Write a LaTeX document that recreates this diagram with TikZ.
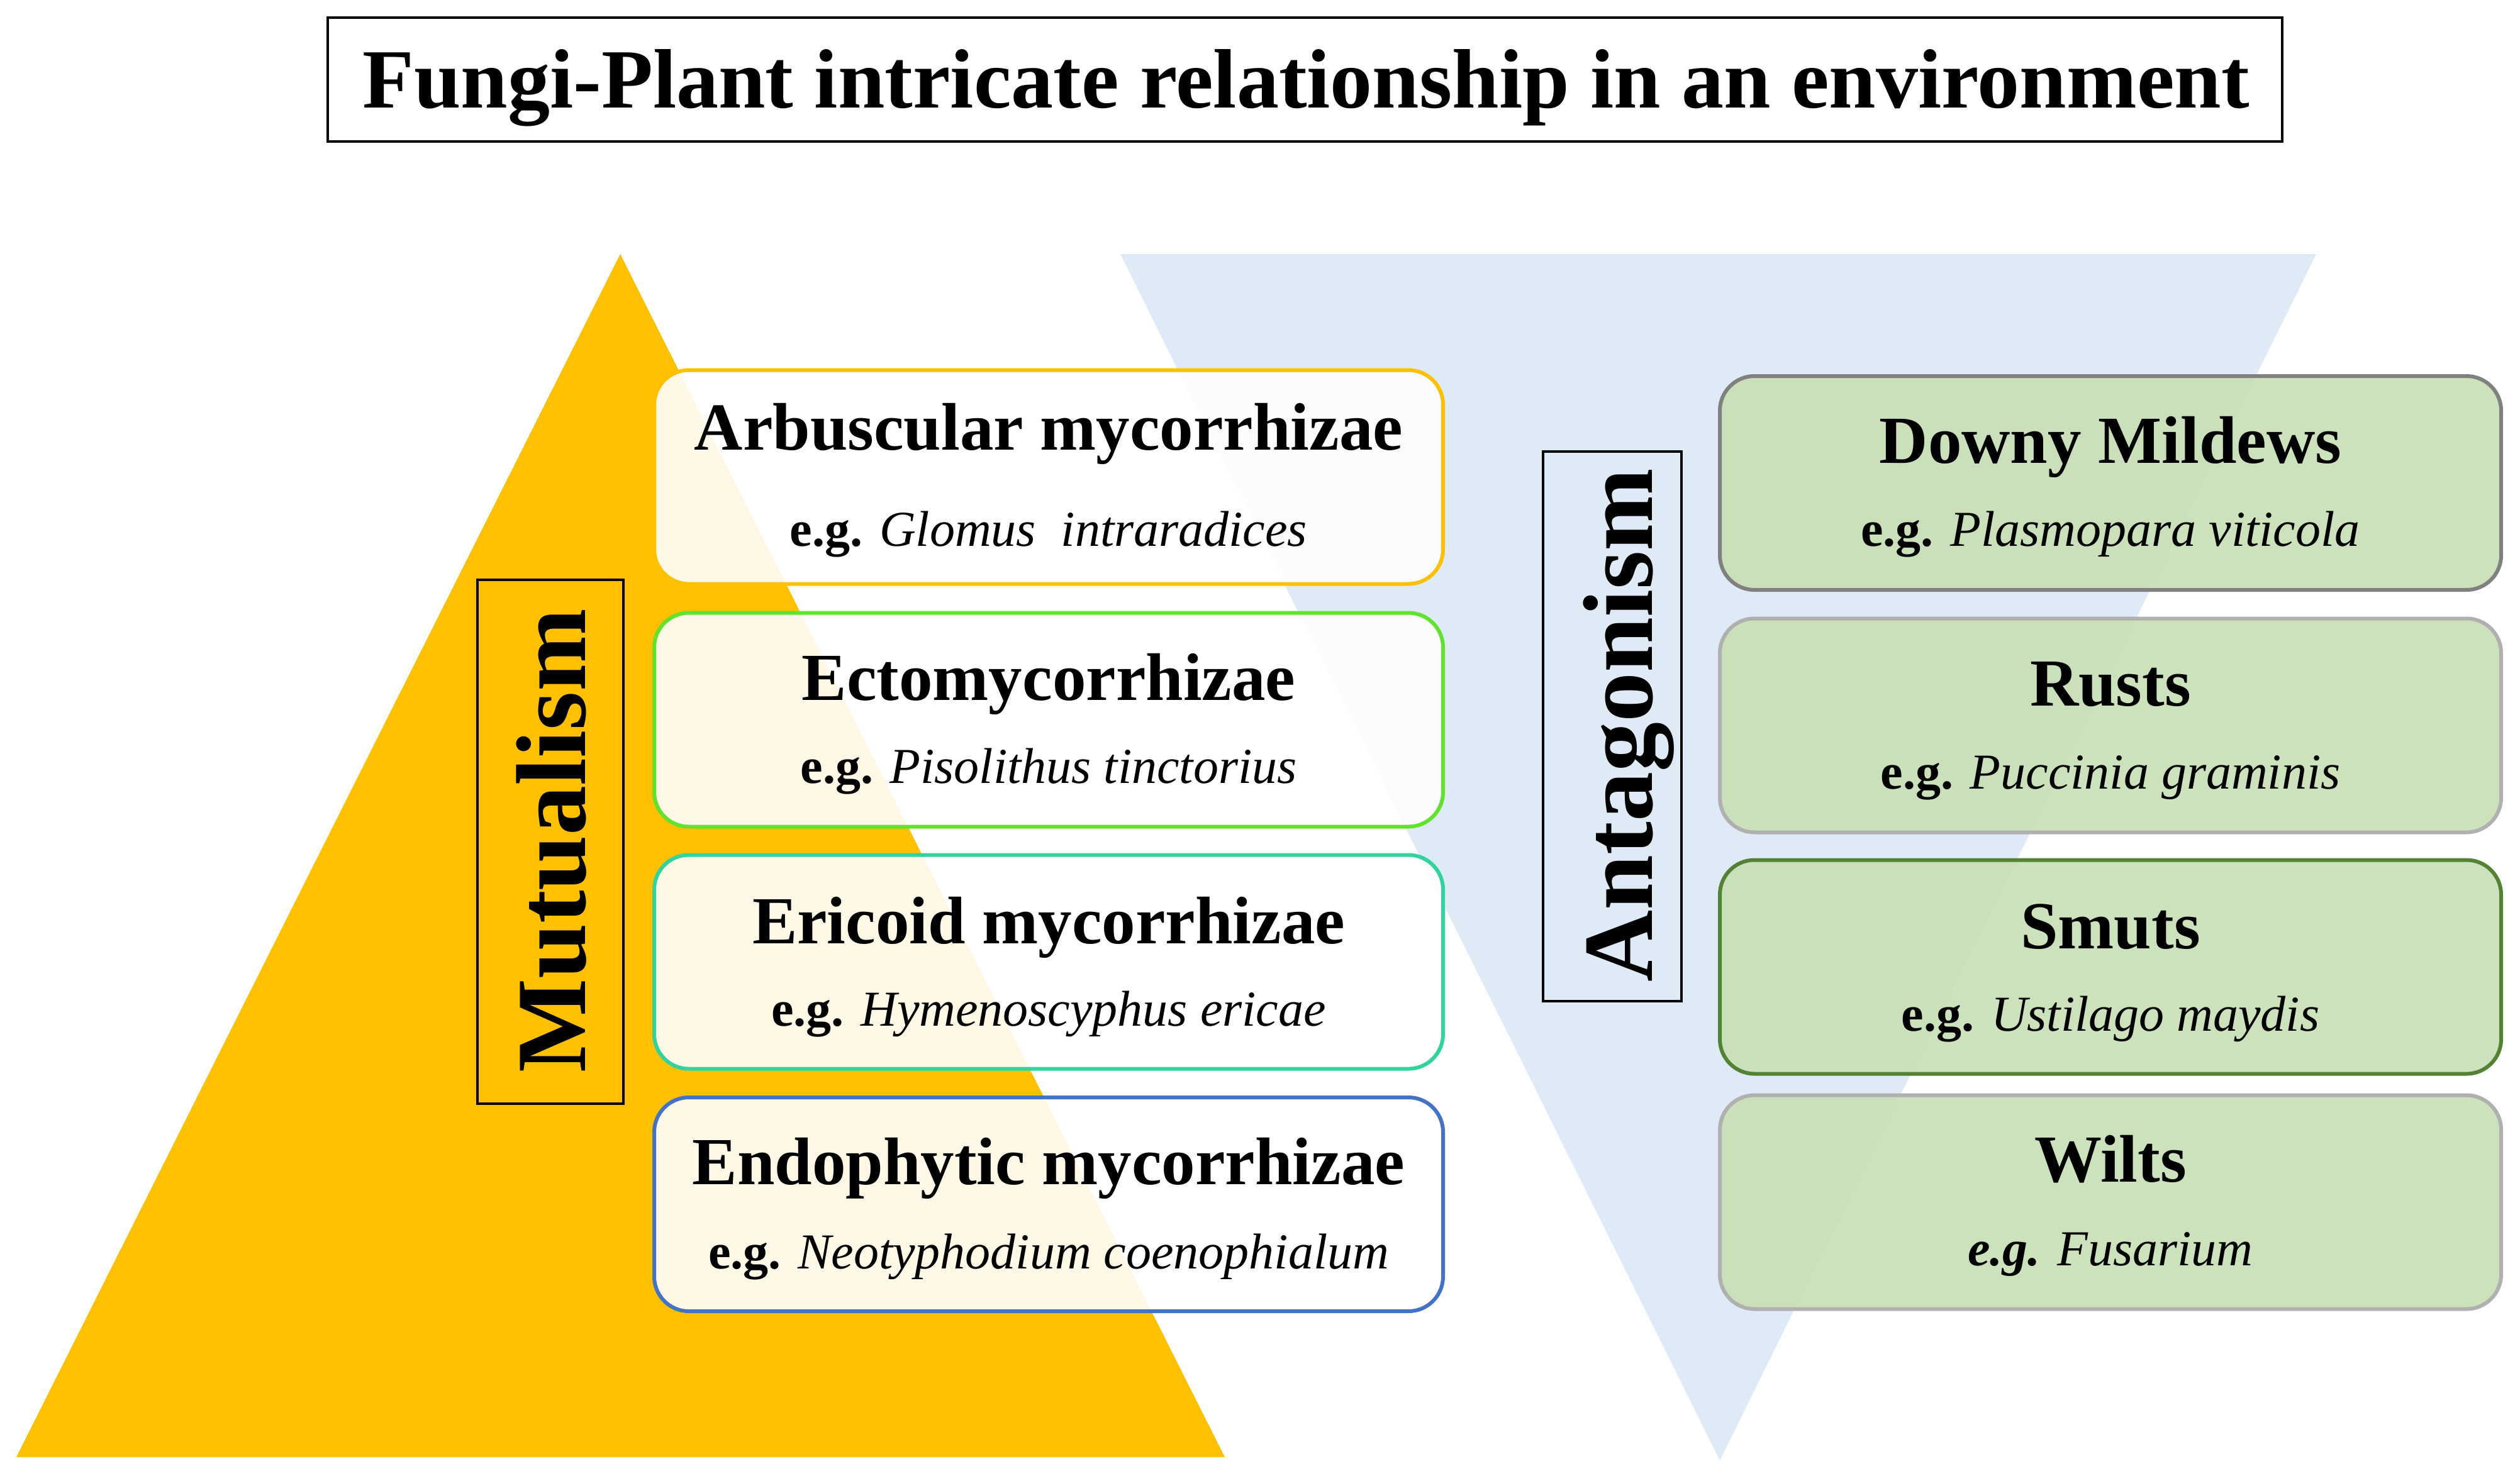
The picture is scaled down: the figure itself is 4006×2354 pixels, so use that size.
\documentclass[tikz,border=0pt]{standalone}
\usepackage{fontspec}
\setmainfont{Liberation Serif}
\definecolor{myyellow}{HTML}{FFC000}
\definecolor{myblue}{HTML}{DEEAF6}
\definecolor{boxgreen}{HTML}{C8E0B8}
\definecolor{bA}{HTML}{FFC000}
\definecolor{bB}{HTML}{62E22E}
\definecolor{bC}{HTML}{33D3A0}
\definecolor{bD}{HTML}{4472C4}
\definecolor{gDark}{HTML}{808080}
\definecolor{gLight}{HTML}{B0B0B0}
\definecolor{gGreen}{HTML}{548235}
\begin{document}
\begin{tikzpicture}[x=1pt,y=-1pt,
  mbox/.style={draw, line width=6pt, rounded corners=55pt, fill=white, fill opacity=0.9, draw opacity=1, minimum width=1254pt, minimum height=340pt, inner sep=0pt},
  abox/.style={draw, line width=6pt, rounded corners=55pt, fill=boxgreen, fill opacity=0.95, draw opacity=1, minimum width=1242pt, minimum height=340pt, inner sep=0pt},
  headtxt/.style={anchor=base, inner sep=0pt, font=\fontsize{107}{120}\selectfont\bfseries},
  egtxt/.style={anchor=base, inner sep=0pt, font=\fontsize{80}{96}\selectfont},
  sidelab/.style={anchor=base, rotate=90, inner sep=0pt, font=\fontsize{158}{180}\selectfont\bfseries},
  labbox/.style={draw, line width=4pt, inner sep=0pt}
]
\useasboundingbox (0,0) rectangle (4006,2354);
% background triangles
\fill[myyellow] (986,404) -- (1947,2317) -- (26,2317) -- cycle;
\fill[myblue] (1781,404) -- (3682,404) -- (2734,2322) -- cycle;
% title
\node[labbox, minimum width=3107pt, minimum height=197pt] (titlebox) at (2074.5,126.5) {};
\node[anchor=base, inner sep=0pt, font=\fontsize{134}{150}\selectfont\bfseries] (titletext) at (2076,171) {Fungi-Plant intricate relationship in an environment};
% side labels
\node[labbox, minimum width=232pt, minimum height=833pt] (mutbox) at (875,1338) {};
\node[sidelab] (mutlab) at (930,1337) {Mutualism};
\node[labbox, minimum width=220pt, minimum height=874pt] (antbox) at (2563,1155) {};
\node[sidelab] (antlab) at (2626,1153) {Antagonism};
% mutualism boxes
\node[mbox, draw=bA] (m1) at (1667,758.5) {};
\node[mbox, draw=bB] (m2) at (1667,1144.5) {};
\node[mbox, draw=bC] (m3) at (1667,1529.5) {};
\node[mbox, draw=bD] (m4) at (1667,1915) {};
\node[headtxt] (m1h) at (1667,715) {Arbuscular mycorrhizae};
\node[egtxt] (m1e) at (1667,868) {\textbf{e.g.} \textit{Glomus\ \ intraradices}};
\node[headtxt] (m2h) at (1667,1113) {Ectomycorrhizae};
\node[egtxt] (m2e) at (1667,1245) {\textbf{e.g.} \textit{Pisolithus tinctorius}};
\node[headtxt] (m3h) at (1667,1500) {Ericoid mycorrhizae};
\node[egtxt] (m3e) at (1667,1631) {\textbf{e.g.} \textit{Hymenoscyphus ericae}};
\node[headtxt] (m4h) at (1667,1883) {Endophytic mycorrhizae};
\node[egtxt] (m4e) at (1667,2017) {\textbf{e.g.} \textit{Neotyphodium coenophialum}};
% antagonism boxes
\node[abox, draw=gDark] (a1) at (3355,768) {};
\node[abox, draw=gLight] (a2) at (3355,1153.5) {};
\node[abox, draw=gGreen] (a3) at (3355,1537.5) {};
\node[abox, draw=gLight] (a4) at (3355,1911.5) {};
\node[headtxt] (a1h) at (3355,736) {Downy Mildews};
\node[egtxt] (a1e) at (3355,868) {\textbf{e.g.} \textit{Plasmopara viticola}};
\node[headtxt] (a2h) at (3355,1122) {Rusts};
\node[egtxt] (a2e) at (3355,1254) {\textbf{e.g.} \textit{Puccinia graminis}};
\node[headtxt] (a3h) at (3355,1508) {Smuts};
\node[egtxt] (a3e) at (3355,1639) {\textbf{e.g.} \textit{Ustilago maydis}};
\node[headtxt] (a4h) at (3355,1879) {Wilts};
\node[egtxt] (a4e) at (3355,2012) {\textbf{\textit{e.g.}} \textit{Fusarium}};
\end{tikzpicture}
\end{document}
